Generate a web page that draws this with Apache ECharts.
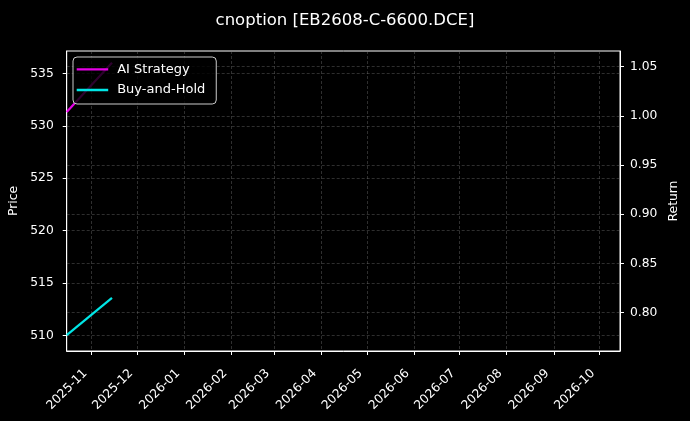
<!DOCTYPE html>
<html>
<head>
<meta charset="utf-8">
<style>html,body{margin:0;padding:0;background:#000;}#c{width:690px;height:421px;}</style>
<script src="https://cdn.jsdelivr.net/npm/echarts@6/dist/echarts.min.js"></script>
</head>
<body>
<div id="c"></div>
<script>
// ---- data ----
const dates = ['2025-10-15T13:00:00', '2025-11-14T08:00:00'];
const aiStrategy = [1.004, 1.054];        // Return (right axis)
const buyAndHold = [510.05, 513.6];       // Price (left axis)
const monthTicks = ['2025-11','2025-12','2026-01','2026-02','2026-03','2026-04',
                    '2026-05','2026-06','2026-07','2026-08','2026-09','2026-10'];
const priceTicks = [510, 515, 520, 525, 530, 535];
const returnTicks = [0.80, 0.85, 0.90, 0.95, 1.00, 1.05];
const xRange = ['2025-10-15T13:00:00', '2026-10-14T14:00:00'];
const priceRange = [508.54, 537.13];
const returnRange = [0.761, 1.066];

const ts = s => new Date(s).getTime();
const monthTs = monthTicks.map(m => ts(m + '-01T00:00:00'));
const font = 'DejaVu Sans';
const fs = 12.3;
const gridLine = {show: true, lineStyle: {color: 'rgba(128,128,128,0.45)', type: [3, 2], width: 0.8}};

const chart = echarts.init(document.getElementById('c'));
chart.setOption({
  backgroundColor: '#000',
  animation: false,
  textStyle: {fontFamily: font},
  title: {
    text: 'cnoption [EB2608-C-6600.DCE]',
    left: 'center', top: 7,
    textStyle: {color: '#fff', fontSize: 16.5, fontWeight: 'normal', fontFamily: font}
  },
  grid: {left: 66.7, right: 70, top: 51, bottom: 70, outerBoundsMode: 'none', containLabel: false,
         show: true, borderColor: '#fff', borderWidth: 1, backgroundColor: 'transparent'},
  legend: {
    left: 73, top: 57, orient: 'vertical',
    icon: 'rect', itemWidth: 31.5, itemHeight: 2.3, itemGap: 6.7,
    padding: [5.3, 11, 7, 3.7],
    backgroundColor: 'rgba(0,0,0,0.8)',
    borderColor: '#cccccc', borderWidth: 1, borderRadius: 4,
    textStyle: {color: '#fff', fontSize: 13, lineHeight: 14, fontFamily: font, padding: [0, 0, 0, 4]},
    data: ['AI Strategy', 'Buy-and-Hold']
  },
  xAxis: {
    type: 'value',
    min: ts(xRange[0]), max: ts(xRange[1]),
    axisLine: {show: true, onZero: false, lineStyle: {color: '#fff', width: 1}},
    axisTick: {show: true, length: 4, lineStyle: {color: '#fff'}, customValues: monthTs},
    axisLabel: {
      color: '#fff', fontSize: fs, fontFamily: font, rotate: 45, margin: 14,
      padding: [0, 9, 0, 0],
      customValues: monthTs,
      formatter: v => {
        const d = new Date(v);
        return d.getFullYear() + '-' + String(d.getMonth() + 1).padStart(2, '0');
      }
    },
    splitLine: gridLine
  },
  yAxis: [
    {
      type: 'value', position: 'left',
      min: priceRange[0], max: priceRange[1],
      name: 'Price', nameLocation: 'middle', nameGap: 43,
      nameTextStyle: {color: '#fff', fontSize: fs, fontFamily: font},
      axisLine: {show: true, lineStyle: {color: '#fff'}},
      axisTick: {show: true, length: 4, lineStyle: {color: '#fff'}, customValues: priceTicks},
      axisLabel: {color: '#fff', fontSize: fs, fontFamily: font, margin: 13, customValues: priceTicks, formatter: v => String(Math.round(v))},
      splitLine: gridLine
    },
    {
      type: 'value', position: 'right',
      min: returnRange[0], max: returnRange[1],
      name: 'Return', nameLocation: 'middle', nameGap: 46.5,
      nameTextStyle: {color: '#fff', fontSize: fs, fontFamily: font},
      axisLine: {show: true, lineStyle: {color: '#fff'}},
      axisTick: {show: true, length: 4, lineStyle: {color: '#fff'}, customValues: returnTicks},
      axisLabel: {color: '#fff', fontSize: fs, fontFamily: font, margin: 10, customValues: returnTicks, formatter: v => v.toFixed(2)},
      splitLine: gridLine
    }
  ],
  series: [
    {
      name: 'AI Strategy', type: 'line', yAxisIndex: 1, symbol: 'none',
      lineStyle: {color: '#ff00ff', width: 2.2, opacity: 0.9}, itemStyle: {color: '#e600e6'},
      data: dates.map((d, i) => [ts(d), aiStrategy[i]])
    },
    {
      name: 'Buy-and-Hold', type: 'line', yAxisIndex: 0, symbol: 'none',
      lineStyle: {color: '#00ffff', width: 2.2, opacity: 0.9}, itemStyle: {color: '#00e6e6'},
      data: dates.map((d, i) => [ts(d), buyAndHold[i]])
    }
  ]
});
</script>
</body>
</html>
